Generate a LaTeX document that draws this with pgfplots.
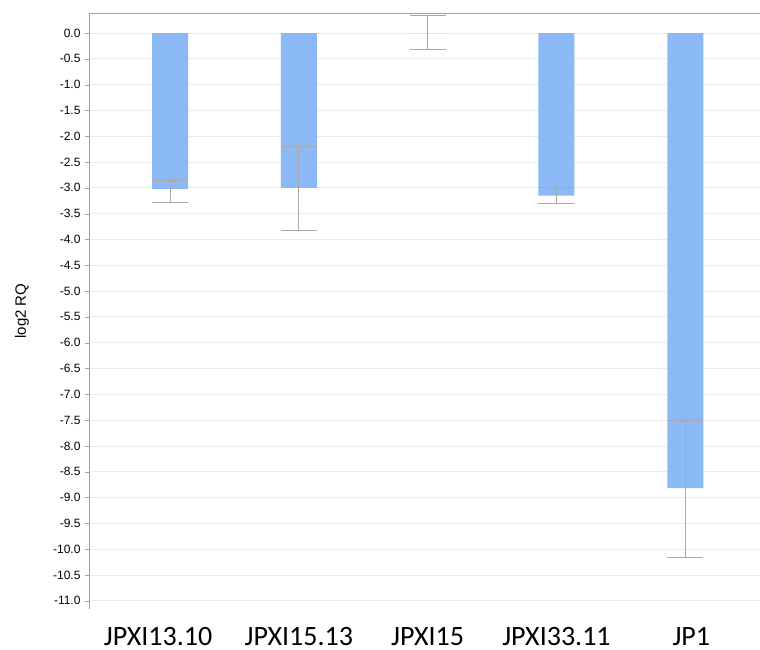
\documentclass[border=0pt]{standalone}
\usepackage{pgfplots}
\pgfplotsset{compat=1.18}
\usepackage{pgfplotstable}
\usepackage{fontspec}
\setmainfont{Liberation Sans}
\newfontfamily\carlito{Carlito}
\definecolor{barblue}{HTML}{8AB9F5}
\definecolor{errgray}{HTML}{A8A8A8}
\definecolor{gridgray}{HTML}{EBEBEB}
\definecolor{axgray}{HTML}{A0A0A0}
\pgfplotstableread{
x y ep em
0 -3.02 0.17 0.26
1 -3.00 0.80 0.82
2 0.00 0.35 0.31
3 -3.15 0.15 0.15
4 -8.82 1.32 1.34
}\datatable
\begin{document}
\begin{tikzpicture}
\useasboundingbox (0,0) rectangle (760pt,650pt);
\begin{axis}[
  at={(89pt,41pt)}, anchor=south west,
  scale only axis, width=671pt, height=596pt,
  xmin=-0.629, xmax=4.58,
  ymin=-11.16, ymax=0.388,
  axis line style={draw=none},
  xtick={0,1,2,3,4},
  xticklabels={\hspace*{-24pt}JPXI13.10,JPXI15.13,JPXI15,JPXI33.11,JP1\hspace*{-12pt}},
  xticklabel style={font=\carlito\fontsize{28}{30}\selectfont, anchor=base, inner sep=0pt, yshift=-33pt},
  x tick style={draw=none},
  ytick={-11,-10.5,...,0},
  yticklabel style={font=\fontsize{12}{14}\selectfont, xshift=-1pt},
  y tick style={axgray},
  tick align=outside, major tick length=4pt,
  /pgf/number format/assume math mode=true,
  /pgf/number format/.cd, fixed, fixed zerofill, precision=1,
  /pgfplots/.cd,
  ymajorgrids, grid style={gridgray, line width=0.8pt},
  ylabel={log2 RQ},
  ylabel style={font=\fontsize{15}{17}\selectfont, at={(axis description cs:-0.1,0.5)}, anchor=center},
  ybar, bar width=36pt,
]
\addplot[fill=barblue, draw=none,
  error bars/.cd, y dir=both, y explicit,
  error bar style={errgray, line width=0.8pt},
  error mark options={errgray, rotate=90, mark size=18pt, line width=0.8pt}]
  table[x=x, y=y, y error plus=ep, y error minus=em] {\datatable};
\draw[axgray, line width=0.9pt] (rel axis cs:0,0) -- (rel axis cs:1,0);
\draw[axgray, line width=0.9pt] (rel axis cs:0,0) -- (rel axis cs:0,1) -- (rel axis cs:1,1);
\end{axis}
\end{tikzpicture}
\end{document}
